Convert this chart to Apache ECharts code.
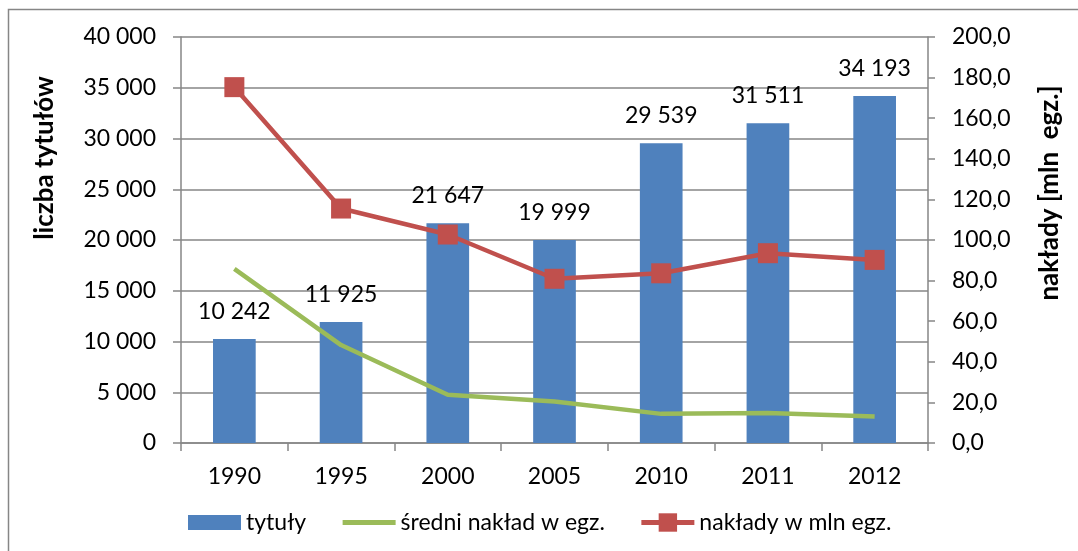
<!DOCTYPE html>
<html><head><meta charset="utf-8">
<script src="https://cdn.jsdelivr.net/npm/echarts@6/dist/echarts.min.js"></script>
<style>html,body{margin:0;padding:0;background:#fff}#c{width:1078px;height:551px}</style>
</head><body><div id="c"></div>
<script>
const categories = ['1990','1995','2000','2005','2010','2011','2012'];
const tytuly = [10242, 11925, 21647, 19999, 29539, 31511, 34193];
const sredniNaklad = [17150, 9650, 4760, 4080, 2870, 2950, 2620];
const naklady = [175.3, 115.5, 102.7, 80.9, 83.6, 93.5, 90.2];
const leftTicks = [0, 40000, 5000];
const rightTicks = [0, 200, 20];

const FONT = 'Lato';
const FS = 23;
const fmtSpace = v => String(Math.round(v)).replace(/\B(?=(\d{3})+(?!\d))/g, ' ');
const grey = '#868686';

const chart = echarts.init(document.getElementById('c'), null, {renderer: 'canvas'});
chart.setOption({
  animation: false,
  textStyle: {fontFamily: FONT, color: '#000'},
  grid: {left: 181, right: 150, top: 37, bottom: 108, containLabel: false},
  legend: {
    left: 183, top: 506,
    itemWidth: 53, itemHeight: 23, itemGap: 34, symbolKeepAspect: true,
    textStyle: {fontFamily: FONT, fontSize: FS, color: '#000'},
    data: [
      {name: 'tytuły', icon: 'path://M0,0h53v15h-53z'},
      {name: 'średni nakład w egz.', itemStyle: {color: 'rgba(0,0,0,0)', borderWidth: 0, opacity: 0},
        lineStyle: {width: 5}, textStyle: {padding: [0, 14, 0, 0]}},
      {name: 'nakłady w mln egz.', lineStyle: {width: 5}}
    ]
  },
  xAxis: {
    type: 'category', data: categories, boundaryGap: true,
    axisLine: {lineStyle: {color: grey, width: 1.5}},
    axisTick: {show: true, length: 8, alignWithLabel: false, lineStyle: {color: grey, width: 1.5}},
    axisLabel: {fontFamily: FONT, fontSize: FS, color: '#000', margin: 22}
  },
  yAxis: [
    {
      type: 'value', min: leftTicks[0], max: leftTicks[1], interval: leftTicks[2],
      axisLine: {show: true, lineStyle: {color: grey, width: 1.5}},
      axisTick: {show: true, length: 8, inside: false, lineStyle: {color: grey, width: 1.5}},
      splitLine: {show: true, lineStyle: {color: grey, width: 1.5}},
      axisLabel: {fontFamily: FONT, fontSize: FS, color: '#000', margin: 25, formatter: fmtSpace}
    },
    {
      type: 'value', min: rightTicks[0], max: rightTicks[1], interval: rightTicks[2], position: 'right',
      axisLine: {show: true, lineStyle: {color: grey, width: 1.5}},
      axisTick: {show: true, length: 7, lineStyle: {color: grey, width: 1.5}},
      splitLine: {show: false},
      axisLabel: {fontFamily: FONT, fontSize: FS, color: '#000', margin: 24,
        formatter: v => v.toFixed(1).replace('.', ',')}
    }
  ],
  series: [
    {
      name: 'tytuły', type: 'bar', data: tytuly, yAxisIndex: 0, barWidth: '40%',
      itemStyle: {color: '#4F81BD'},
      label: {show: true, position: 'top', distance: 16, fontFamily: FONT, fontSize: FS, color: '#000', formatter: p => fmtSpace(p.value)}
    },
    {
      name: 'średni nakład w egz.', type: 'line', data: sredniNaklad, yAxisIndex: 0,
      symbol: 'none', lineStyle: {color: '#9BBB59', width: 4.5}, itemStyle: {color: '#9BBB59'}
    },
    {
      name: 'nakłady w mln egz.', type: 'line', data: naklady, yAxisIndex: 1,
      symbol: 'rect', symbolSize: 20, showAllSymbol: true,
      lineStyle: {color: '#C0504D', width: 4.5}, itemStyle: {color: '#C0504D'}
    }
  ],
  graphic: [
    {type: 'rect', shape: {x: 8.5, y: 9.5, width: 1200, height: 800}, style: {fill: 'none', stroke: grey, lineWidth: 1.5}, silent: true, z: -10},
    {type: 'text', x: 45, y: 158, rotation: Math.PI / 2,
      style: {text: 'liczba tytułów', font: 'bold 26px ' + FONT, fill: '#000', align: 'center', verticalAlign: 'middle'}},
    {type: 'text', x: 1050, y: 193, rotation: Math.PI / 2,
      style: {text: 'nakłady [mln  egz.]', font: 'bold 26px ' + FONT, fill: '#000', align: 'center', verticalAlign: 'middle'}}
  ]
});
</script></body></html>
